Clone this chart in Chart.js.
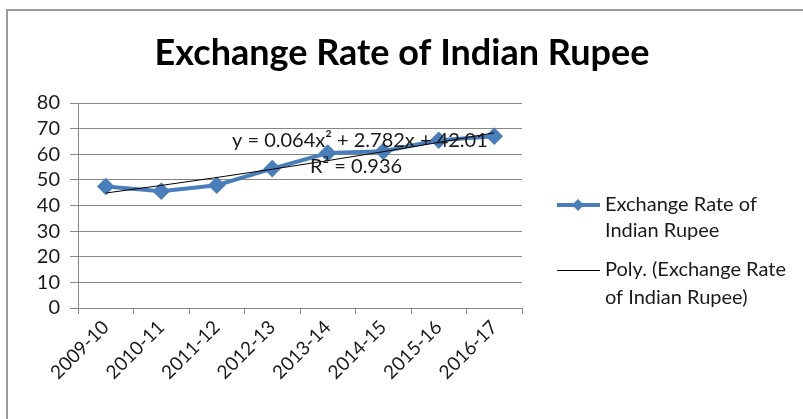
<!DOCTYPE html>
<html lang="en">
<head>
    <meta charset="UTF-8">
    <title>Exchange Rate of Indian Rupee</title>
    <script src="https://cdn.jsdelivr.net/npm/chart.js"></script>
    <style>
        body {
            margin: 0;
            padding: 0;
            background: white;
            overflow: hidden;
        }

        #frame {
            position: absolute;
            left: 6px;
            top: 9px;
            width: 900px;
            height: 500px;
            border-left: 2px solid #9a9a9a;
            border-top: 2px solid #9a9a9a;
        }

        #chart-container {
            position: absolute;
            left: 0;
            top: 0;
            width: 803px;
            height: 419px;
        }
    </style>
</head>
<body>
    <div id="frame"></div>
    <div id="chart-container">
        <canvas id="chart"></canvas>
    </div>

    <script>
        const years = ["2009-10", "2010-11", "2011-12", "2012-13", "2013-14", "2014-15", "2015-16", "2016-17"];
        const rates = [47.42, 45.58, 47.92, 54.41, 60.5, 61.14, 65.46, 67.07];
        // polynomial trendline
        const trend = [44.86, 47.83, 50.93, 54.16, 57.52, 61.01, 64.62, 68.37];
        const yTicks = [0, 10, 20, 30, 40, 50, 60, 70, 80];

        const chartTitle = "Exchange Rate of Indian Rupee";
        const seriesName = "Exchange Rate of Indian Rupee";
        const trendName = "Poly. (Exchange Rate of Indian Rupee)";
        const equation = "y = 0.064x² + 2.782x + 42.01";
        const rSquared = "R² = 0.936";

        const blue = "#4a7ebb";
        const fontFamily = "Lato, 'Open Sans', sans-serif";

        const overlay = {
            id: "overlay",
            afterDraw(chart) {
                const c = chart.ctx;
                c.save();
                // title
                c.fillStyle = "#000";
                c.font = "bold 36px " + fontFamily;
                c.textAlign = "center";
                c.textBaseline = "alphabetic";
                c.fillText(chartTitle, 402, 65);

                c.fillStyle = "#1a1a1a";
                c.textBaseline = "middle";
                c.font = "20px " + fontFamily;
                c.textAlign = "left";
                c.fillText(equation, 232, 141);
                c.fillText(rSquared, 310, 167);

                // legend
                c.strokeStyle = blue;
                c.lineWidth = 4;
                c.beginPath();
                c.moveTo(557, 205);
                c.lineTo(600, 205);
                c.stroke();
                c.fillStyle = blue;
                c.beginPath();
                c.moveTo(578, 199);
                c.lineTo(584, 205);
                c.lineTo(578, 211);
                c.lineTo(572, 205);
                c.closePath();
                c.fill();

                c.strokeStyle = "#000";
                c.lineWidth = 1;
                c.beginPath();
                c.moveTo(557, 270.5);
                c.lineTo(600, 270.5);
                c.stroke();

                c.fillStyle = "#1a1a1a";
                c.fillText("Exchange Rate of", 605, 205);
                c.fillText("Indian Rupee", 605, 231);
                c.fillText("Poly. (Exchange Rate", 605, 270);
                c.fillText("of Indian Rupee)", 605, 298);
                c.restore();
            }
        };

        new Chart(document.getElementById("chart"), {
            type: "line",
            data: {
                labels: years,
                datasets: [
                    {
                        label: seriesName,
                        data: rates,
                        borderColor: blue,
                        backgroundColor: blue,
                        borderWidth: 4,
                        pointStyle: "rectRot",
                        pointRadius: 6,
                        pointHoverRadius: 6,
                        tension: 0,
                        order: 2
                    },
                    {
                        label: trendName,
                        data: trend,
                        borderColor: "#000",
                        borderWidth: 1,
                        pointRadius: 0,
                        cubicInterpolationMode: "monotone",
                        order: 1
                    }
                ]
            },
            options: {
                responsive: true,
                maintainAspectRatio: false,
                animation: false,
                layout: {
                    padding: { left: 0, right: 281, top: 103, bottom: 0 }
                },
                plugins: {
                    legend: { display: false },
                    tooltip: { enabled: false },
                    title: { display: false }
                },
                scales: {
                    x: {
                        offset: true,
                        grid: {
                            offset: true,
                            drawOnChartArea: false,
                            color: "#868686",
                            tickLength: 6
                        },
                        border: { color: "#868686" },
                        ticks: {
                            color: "#1a1a1a",
                            font: { family: fontFamily, size: 19 },
                            maxRotation: 45,
                            minRotation: 45,
                            autoSkip: false,
                            padding: 2
                        },
                        afterFit(scale) { scale.height = 111; }
                    },
                    y: {
                        min: 0,
                        max: 80,
                        afterBuildTicks(scale) {
                            scale.ticks = yTicks.map(v => ({ value: v }));
                        },
                        grid: { color: "#868686", tickLength: 8 },
                        border: { color: "#868686" },
                        ticks: {
                            color: "#1a1a1a",
                            font: { family: fontFamily, size: 20 },
                            autoSkip: false,
                            padding: 10
                        },
                        afterFit(scale) { scale.width = 78; }
                    }
                }
            },
            plugins: [overlay]
        });
    </script>
</body>
</html>
